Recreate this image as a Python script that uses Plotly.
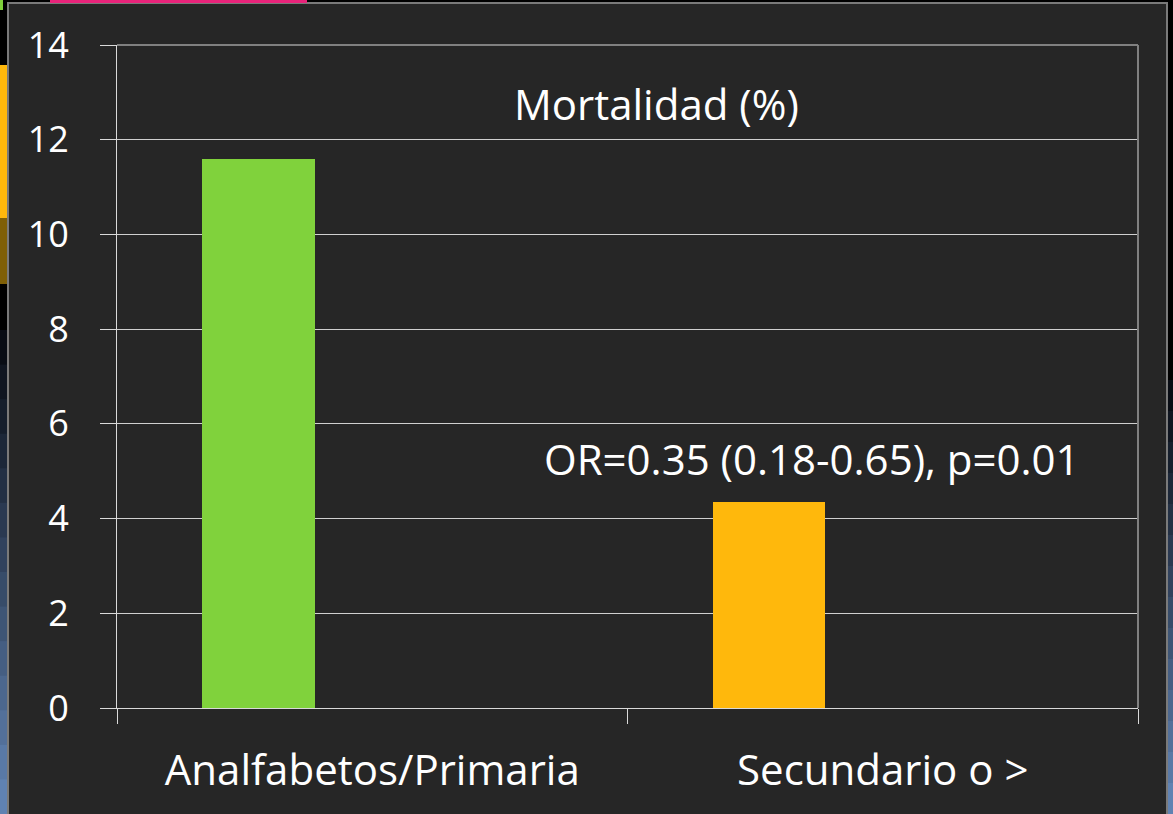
import plotly.graph_objects as go

categories = ["Analfabetos/Primaria", "Secundario o >"]
mortalidad = [11.6, 4.35]
bar_colors = ["#80D23C", "#FFB80C"]
y_ticks = [0, 2, 4, 6, 8, 10, 12, 14]
title_text = "Mortalidad (%)"
or_text = "OR=0.35 (0.18-0.65), p=0.01"

W, H = 1173, 814
L, R, T, B = 117, 35, 45, 106
PW, PH = W - L - R, H - T - B


def fx(px):
    return (px - L) / PW


def fy(py):
    return (H - B - py) / PH


FONT = "Open Sans"
TXT = "#FFFFFF"

fig = go.Figure()
for cat, val, col in zip(categories, mortalidad, bar_colors):
    fig.add_trace(go.Bar(x=[cat], y=[val], marker=dict(color=col, line=dict(width=0)),
                         offset=-0.333, width=0.22, showlegend=False, hoverinfo="skip"))

shapes = []
# plot area border (top and right)
shapes.append(dict(type="line", xref="paper", yref="paper", x0=0, x1=1, y0=1, y1=1,
                   line=dict(color="#808080", width=2)))
shapes.append(dict(type="line", xref="paper", yref="paper", x0=1, x1=1, y0=0, y1=1,
                   line=dict(color="#808080", width=2)))
# outer chart frame
shapes.append(dict(type="rect", xref="paper", yref="paper", x0=fx(8), x1=fx(1167), y0=fy(3), y1=fy(830),
                   line=dict(color="#7A7A7A", width=2), layer="above"))


def rect(x0, x1, y0, y1, color):
    shapes.append(dict(type="rect", xref="paper", yref="paper", x0=fx(x0), x1=fx(x1), y0=fy(y0), y1=fy(y1),
                       line=dict(width=0), fillcolor=color, layer="above"))


# slide decorations outside the frame
rect(0, 7, 0, 65, "#000000")
rect(0, 7, 65, 218, "#FFB80C")
rect(0, 7, 218, 284, "#7F5F06")
rect(0, 7, 284, 330, "#000000")
rect(1168, 1173, 0, 380, "#000000")
rect(0, 1173, 0, 2, "#000000")
rect(50, 307, 0, 3, "#E8237A")
rect(0, 3, 0, 10, "#7FD13B")
c0 = (5, 8, 14)
c1 = (100, 135, 185)
n = 14
for i in range(n):
    t = (i + 0.5) / n
    col = "rgb(%d,%d,%d)" % tuple(int(a + (b - a) * t) for a, b in zip(c0, c1))
    y0 = 330 + (814 - 330) * i / n
    y1 = 330 + (814 - 330) * (i + 1) / n + 1
    rect(0, 7, y0, y1, col)
    y0r = 380 + (814 - 380) * i / n
    y1r = 380 + (814 - 380) * (i + 1) / n + 1
    rect(1168, 1173, y0r, y1r, col)

fig.update_layout(
    width=W, height=H,
    margin=dict(l=L, r=R, t=T, b=B, pad=0),
    paper_bgcolor="#262626", plot_bgcolor="#262626",
    font=dict(family=FONT, color=TXT),
    bargap=0,
    hovermode=False,
    shapes=shapes,
    annotations=[
        dict(text=title_text, xref="paper", yref="paper", x=fx(656), y=fy(103),
             xanchor="center", yanchor="middle", showarrow=False,
             font=dict(family=FONT, size=42, color=TXT)),
        dict(text=or_text, xref="paper", yref="paper", x=fx(812), y=fy(458),
             xanchor="center", yanchor="middle", showarrow=False,
             font=dict(family=FONT, size=42, color=TXT)),
    ],
)
fig.update_xaxes(
    type="category", range=[-0.5, 1.5], tickson="boundaries",
    ticks="outside", ticklen=15, tickcolor="#D9D9D9", tickwidth=1,
    showline=True, linecolor="#D9D9D9", linewidth=1,
    showgrid=False, zeroline=False,
    tickfont=dict(family=FONT, size=42, color=TXT),
    ticklabelstandoff=26,
)
fig.update_yaxes(
    range=[0, 14], tickvals=y_ticks, ticktext=[str(v) for v in y_ticks],
    ticks="outside", ticklen=16, tickcolor="#D9D9D9", tickwidth=1,
    showline=True, linecolor="#D9D9D9", linewidth=1,
    showgrid=True, gridcolor="#D0D0D0", gridwidth=1, zeroline=False,
    tickfont=dict(family=FONT, size=36, color=TXT),
    ticklabelstandoff=24,
)

fig.write_html("out.html", config={"displayModeBar": False, "staticPlot": True},
               post_script="document.body.style.margin='0';document.body.style.overflow='hidden';")
